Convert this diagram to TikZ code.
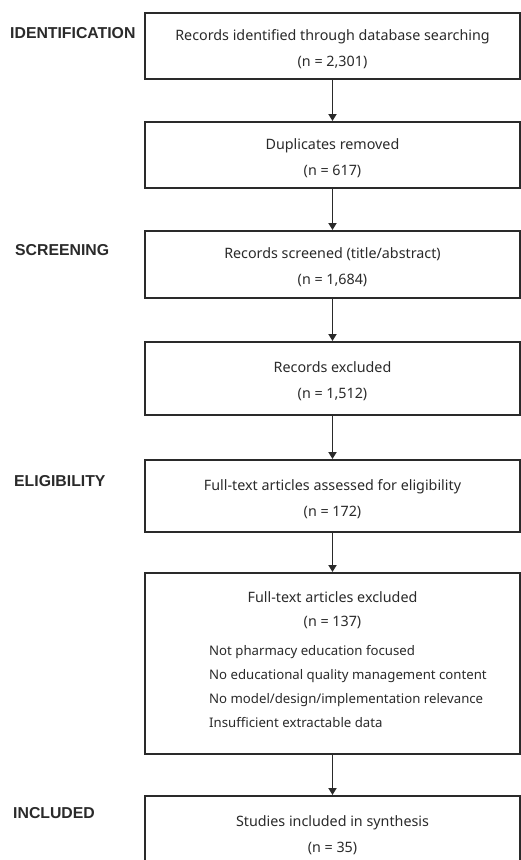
\documentclass[tikz,border=0pt]{standalone}
\usepackage{fontspec}
\setmainfont{Noto Sans}
\newfontfamily\labfont{Liberation Sans}
\usetikzlibrary{arrows.meta}
\definecolor{ink}{HTML}{2A2A2A}
\begin{document}
\begin{tikzpicture}[x=1pt,y=-1pt,
  box/.style={draw=ink, line width=1.8pt, minimum width=375pt, inner sep=0pt, anchor=north},
  txt/.style={align=center, text=ink, inner sep=0pt, yshift=-3pt, font=\fontsize{14.3}{26}\selectfont},
  stage/.style={anchor=west, text=ink, font=\labfont\bfseries\fontsize{15.8}{18}\selectfont, inner sep=0pt},
  flow/.style={draw=ink, line width=1.8pt, -{Triangle[width=8pt,length=7pt]}},
  item/.style={anchor=north west, align=left, text=ink, inner sep=0pt, font=\fontsize{13.2}{24}\selectfont}
]
\useasboundingbox (0,0) rectangle (521,860);
\fill[white] (0,0) rectangle (521,860);

\node[stage] (s1) at (10,33) {IDENTIFICATION};
\node[stage] (s2) at (15,250) {SCREENING};
\node[stage] (s3) at (14,481) {ELIGIBILITY};
\node[stage] (s4) at (13,813) {INCLUDED};

\node[box, minimum height=66pt, label={[txt]center:{Records identified through database searching\\(n = 2,301)}}] (b1) at (332.5,12) {};
\node[box, minimum height=66pt, label={[txt]center:{Duplicates removed\\(n = 617)}}] (b2) at (332.5,121) {};
\node[box, minimum height=67pt, label={[txt]center:{Records screened (title/abstract)\\(n = 1,684)}}] (b3) at (332.5,230) {};
\node[box, minimum height=73pt, label={[txt]center:{Records excluded\\(n = 1,512)}}] (b4) at (332.5,341) {};
\node[box, minimum height=72pt, label={[txt]center:{Full-text articles assessed for eligibility\\(n = 172)}}] (b5) at (332.5,459) {};
\node[box, minimum height=181pt] (b6) at (332.5,572) {};
\node[box, minimum height=72pt, label={[txt]center:{Studies included in synthesis\\(n = 35)}}] (b7) at (332.5,795) {};

\node[txt, font=\fontsize{14.3}{23.5}\selectfont] (b6t) at (332.5,607) {Full-text articles excluded\\(n = 137)};
\node[item] (b6l) at (209,645) {Not pharmacy education focused\\No educational quality management content\\No model/design/implementation relevance\\Insufficient extractable data};

\draw[flow] (b1) -- (b2);
\draw[flow] (b2) -- (b3);
\draw[flow] (b3) -- (b4);
\draw[flow] (b4) -- (b5);
\draw[flow] (b5) -- (b6);
\draw[flow] (b6) -- (b7);
\end{tikzpicture}
\end{document}
